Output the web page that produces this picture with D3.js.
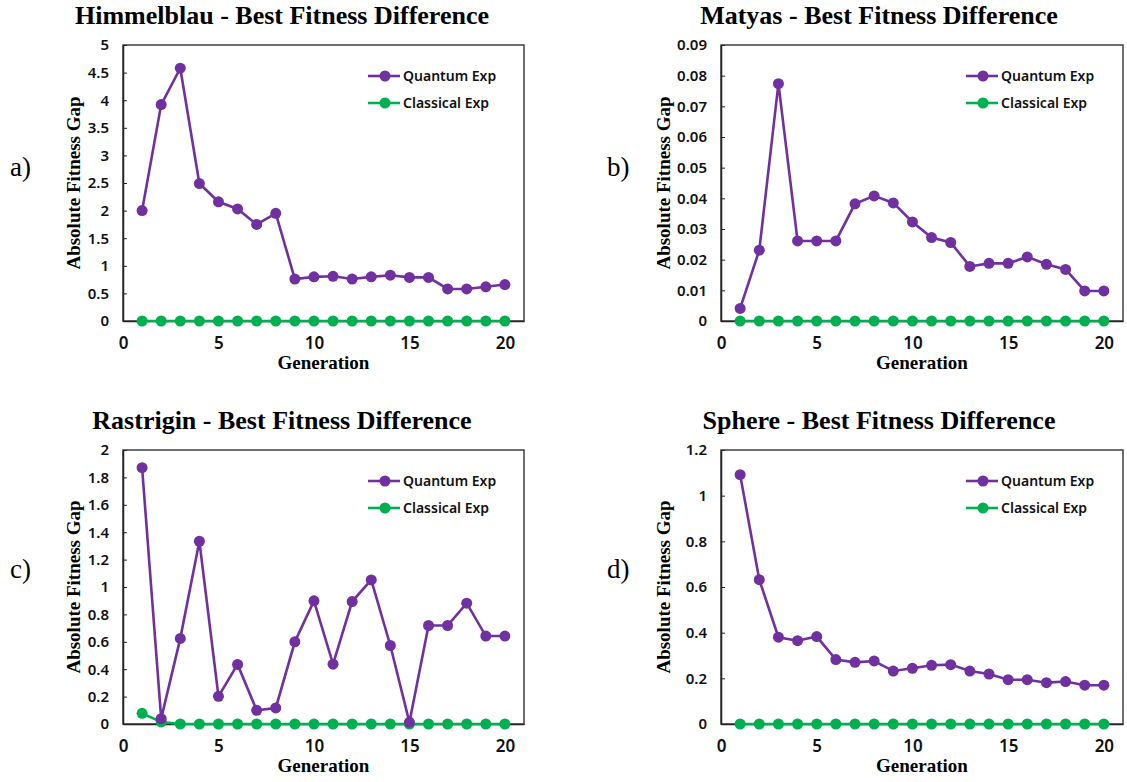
<!DOCTYPE html>
<html>
<head>
<meta charset="utf-8">
<script src="https://cdn.jsdelivr.net/npm/d3@7"></script>
<style>
  body { margin: 0; background: #fff; }
  svg { display: block; }
</style>
</head>
<body>
<svg id="chart" width="1127" height="782"></svg>
<script>
// generations 1..20
const generations = [1, 2, 3, 4, 5, 6, 7, 8, 9, 10, 11, 12, 13, 14, 15, 16, 17, 18, 19, 20];
const xTicks = [0, 5, 10, 15, 20];

const himmelblauQuantum = [2.0, 3.92, 4.58, 2.49, 2.16, 2.03, 1.75, 1.95, 0.76, 0.80,
  0.81, 0.76, 0.80, 0.83, 0.79, 0.79, 0.58, 0.58, 0.62, 0.66];
const himmelblauClassical = [0, 0, 0, 0, 0, 0, 0, 0, 0, 0, 0, 0, 0, 0, 0, 0, 0, 0, 0, 0];
const himmelblauTicks = [0, 0.5, 1, 1.5, 2, 2.5, 3, 3.5, 4, 4.5, 5];

const matyasQuantum = [0.0041, 0.0231, 0.0774, 0.0261, 0.0261, 0.0261, 0.0382, 0.0408, 0.0385, 0.0323,
  0.0272, 0.0256, 0.0178, 0.0188, 0.0188, 0.0209, 0.0185, 0.0168, 0.0098, 0.0098];
const matyasClassical = [0, 0, 0, 0, 0, 0, 0, 0, 0, 0, 0, 0, 0, 0, 0, 0, 0, 0, 0, 0];
const matyasTicks = [0, 0.01, 0.02, 0.03, 0.04, 0.05, 0.06, 0.07, 0.08, 0.09];

const rastriginQuantum = [1.871, 0.039, 0.625, 1.334, 0.202, 0.435, 0.10, 0.117, 0.60, 0.899,
  0.437, 0.894, 1.052, 0.573, 0.012, 0.719, 0.719, 0.882, 0.642, 0.642];
const rastriginClassical = [0.078, 0.015, 0, 0, 0, 0, 0, 0, 0, 0, 0, 0, 0, 0, 0, 0, 0, 0, 0, 0];
const rastriginTicks = [0, 0.2, 0.4, 0.6, 0.8, 1, 1.2, 1.4, 1.6, 1.8, 2];

const sphereQuantum = [1.092, 0.632, 0.380, 0.365, 0.383, 0.282, 0.270, 0.276, 0.232, 0.244,
  0.257, 0.260, 0.232, 0.219, 0.194, 0.194, 0.181, 0.186, 0.170, 0.170];
const sphereClassical = [0, 0, 0, 0, 0, 0, 0, 0, 0, 0, 0, 0, 0, 0, 0, 0, 0, 0, 0, 0];
const sphereTicks = [0, 0.2, 0.4, 0.6, 0.8, 1, 1.2];

const seriesNames = ["Quantum Exp", "Classical Exp"];
const seriesColors = ["#7030a0", "#00b050"];

const SERIF = "'Liberation Serif', 'Times New Roman', serif";
const SANS = "'Noto Sans', 'Open Sans', sans-serif";

const svg = d3.select("#chart");

const panels = [
  { title: "Himmelblau - Best Fitness Difference", letter: "a)", q: himmelblauQuantum, c: himmelblauClassical,
    ticks: himmelblauTicks, box: [123, 45, 524, 321], titleX: 282, titleY: 24, letterX: 10, letterY: 176, labelOff: 50 },
  { title: "Matyas - Best Fitness Difference", letter: "b)", q: matyasQuantum, c: matyasClassical,
    ticks: matyasTicks, box: [721, 45, 1123, 321], titleX: 879, titleY: 24, letterX: 607, letterY: 176, labelOff: 58 },
  { title: "Rastrigin - Best Fitness Difference", letter: "c)", q: rastriginQuantum, c: rastriginClassical,
    ticks: rastriginTicks, box: [123, 450, 524, 724], titleX: 282, titleY: 429, letterX: 10, letterY: 578, labelOff: 50 },
  { title: "Sphere - Best Fitness Difference", letter: "d)", q: sphereQuantum, c: sphereClassical,
    ticks: sphereTicks, box: [721, 450, 1123, 724], titleX: 879, titleY: 429, letterX: 607, letterY: 578, labelOff: 58 }
];

panels.forEach(p => drawPanel(p));

function drawPanel(p) {
  const [x0, y0, x1, y1] = p.box;
  const g = svg.append("g");

  const x = d3.scaleLinear().domain([0, 21]).range([x0, x1]);
  const y = d3.scaleLinear().domain([0, d3.max(p.ticks)]).range([y1, y0]);

  // title + panel letter
  g.append("text")
    .attr("x", p.titleX).attr("y", p.titleY)
    .attr("text-anchor", "middle")
    .style("font-family", SERIF).style("font-weight", "bold").style("font-size", "26px")
    .text(p.title);

  g.append("text")
    .attr("x", p.letterX).attr("y", p.letterY)
    .style("font-family", SERIF).style("font-size", "27px")
    .text(p.letter);

  // frame
  g.append("rect")
    .attr("x", x0).attr("y", y0)
    .attr("width", x1 - x0).attr("height", y1 - y0)
    .attr("fill", "none").attr("stroke", "#404040").attr("stroke-width", 1.5);

  // y axis (inward ticks)
  const yAxis = d3.axisLeft(y).tickValues(p.ticks).tickSizeInner(-4).tickSizeOuter(0)
    .tickPadding(14).tickFormat(d => +d.toFixed(2));
  const ya = g.append("g").attr("transform", `translate(${x0},0)`).call(yAxis);
  ya.select(".domain").attr("stroke", "#222").attr("stroke-width", 1.5);
  ya.selectAll(".tick line").attr("stroke", "#222");
  ya.selectAll("text")
    .style("font-family", SANS).style("font-weight", 600).style("font-size", "15px").attr("fill", "#111");

  // x axis
  const xAxis = d3.axisBottom(x).tickValues(xTicks).tickSize(0).tickPadding(16);
  const xa = g.append("g").attr("transform", `translate(0,${y1})`).call(xAxis);
  xa.select(".domain").attr("stroke", "#222").attr("stroke-width", 1.5);
  xa.selectAll("text")
    .style("font-family", SANS).style("font-weight", 600).style("font-size", "17px").attr("fill", "#111");

  // axis titles
  g.append("text")
    .attr("transform", `translate(${x0 - p.labelOff},${(y0 + y1) / 2}) rotate(-90)`)
    .attr("text-anchor", "middle").attr("dy", "0.35em")
    .style("font-family", SERIF).style("font-weight", "bold").style("font-size", "19px")
    .text("Absolute Fitness Gap");

  g.append("text")
    .attr("x", (x0 + x1) / 2).attr("y", y1 + 48)
    .attr("text-anchor", "middle")
    .style("font-family", SERIF).style("font-weight", "bold").style("font-size", "19px")
    .text("Generation");

  // series: classical first so quantum sits on top
  const line = d3.line().x((d, i) => x(generations[i])).y(d => y(d));
  [[p.c, 1], [p.q, 0]].forEach(([vals, k]) => {
    g.append("path")
      .datum(vals)
      .attr("d", line)
      .attr("fill", "none")
      .attr("stroke", seriesColors[k])
      .attr("stroke-width", 2.6);
    g.selectAll(null)
      .data(vals)
      .join("circle")
      .attr("cx", (d, i) => x(generations[i]))
      .attr("cy", d => y(d))
      .attr("r", 5.5)
      .attr("fill", seriesColors[k]);
  });

  // legend
  const lg = g.append("g").attr("transform", `translate(${x0 + 245},${y0 + 31})`);
  seriesNames.forEach((name, k) => {
    const row = lg.append("g").attr("transform", `translate(0,${k * 27})`);
    row.append("line").attr("x1", 0).attr("x2", 32).attr("y1", 0).attr("y2", 0)
      .attr("stroke", seriesColors[k]).attr("stroke-width", 2.6);
    row.append("circle").attr("cx", 17).attr("cy", 0).attr("r", 5.5).attr("fill", seriesColors[k]);
    row.append("text").attr("x", 35).attr("y", 0).attr("dy", "0.35em")
      .style("font-family", SANS).style("font-weight", 600).style("font-size", "14px").attr("fill", "#111")
      .text(name);
  });
}
</script>
</body>
</html>
